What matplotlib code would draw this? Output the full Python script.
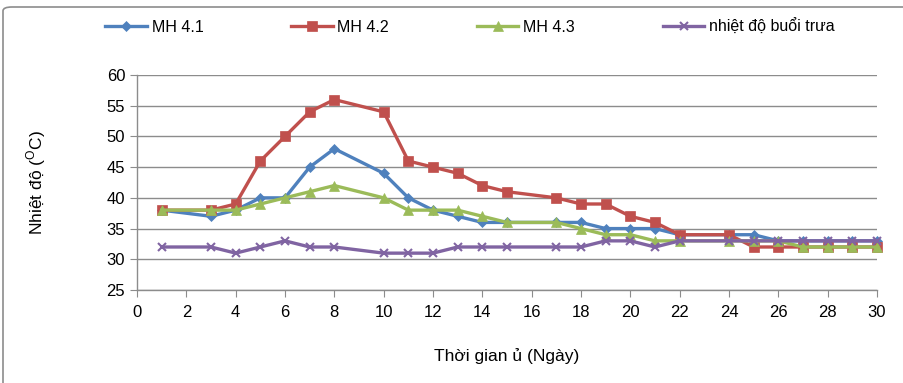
import matplotlib
matplotlib.use("Agg")
import matplotlib.pyplot as plt
from matplotlib.patches import FancyBboxPatch

plt.rcParams['font.family'] = ['Liberation Sans', 'DejaVu Sans']

days = [1, 3, 4, 5, 6, 7, 8, 10, 11, 12, 13, 14, 15, 17, 18, 19, 20, 21, 22, 24, 25, 26, 27, 28, 29, 30]
mh41 = [38, 37, 38, 40, 40, 45, 48, 44, 40, 38, 37, 36, 36, 36, 36, 35, 35, 35, 34, 34, 34, 33, 33, 33, 33, 33]
mh42 = [38, 38, 39, 46, 50, 54, 56, 54, 46, 45, 44, 42, 41, 40, 39, 39, 37, 36, 34, 34, 32, 32, 32, 32, 32, 32]
mh43 = [38, 38, 38, 39, 40, 41, 42, 40, 38, 38, 38, 37, 36, 36, 35, 34, 34, 33, 33, 33, 33, 33, 32, 32, 32, 32]
noon = [32, 32, 31, 32, 33, 32, 32, 31, 31, 31, 32, 32, 32, 32, 32, 33, 33, 32, 33, 33, 33, 33, 33, 33, 33, 33]

labels = ['MH 4.1', 'MH 4.2', 'MH 4.3', 'nhiệt độ buổi trưa']
colors = ['#4F81BD', '#C0504D', '#9BBB59', '#8064A2']
markers = ['D', 's', '^', 'x']
msizes = [5, 7, 7, 6]

fig = plt.figure(figsize=(9.04, 3.83), dpi=100)
ax = fig.add_axes([137/904, 1-290/383, (877-137)/904, (290-75)/383])

for ys, lab, c, m, ms in zip([mh41, mh42, mh43, noon], labels, colors, markers, msizes):
    ax.plot(days, ys, color=c, lw=2.4, marker=m, ms=ms, mew=1.5 if m == 'x' else 0.5,
            mec=c, mfc=c, label=lab, clip_on=False, zorder=3)

ax.set_xlim(0, 30)
ax.set_ylim(25, 60)
ax.set_xticks(range(0, 31, 2))
ax.set_yticks(range(25, 61, 5))
ax.grid(axis='y', color='#8C8C8C', lw=1.0)
ax.set_axisbelow(True)
for s in ['top', 'right']:
    ax.spines[s].set_visible(False)
for s in ['left', 'bottom']:
    ax.spines[s].set_color('#8C8C8C')
    ax.spines[s].set_linewidth(1.0)
ax.tick_params(axis='both', colors='#8C8C8C', labelcolor='black', labelsize=12, length=5, direction='out')
ax.tick_params(axis='x', pad=6)

ax.set_xlabel('Thời gian ủ (Ngày)', fontsize=12.5, labelpad=20)
ax.set_ylabel('Nhiệt độ ($^{\\mathregular{O}}$C)', fontsize=12.5, labelpad=42)

leg = fig.legend(loc='center', ncol=4, frameon=False,
                 fontsize=11.5, handlelength=2.6, handletextpad=0.3, columnspacing=5.5)
leg.set_bbox_to_anchor((470/904, 1-27/383), transform=fig.transFigure)

border = FancyBboxPatch((3/904, -0.05), 1.2, 1-7/383+0.05, boxstyle='round,pad=0,rounding_size=0.01',
                        transform=fig.transFigure, fill=False, ec='#8C8C8C', lw=1.2, clip_on=False)
fig.patches.append(border)

fig.savefig('out.png', dpi=100)
